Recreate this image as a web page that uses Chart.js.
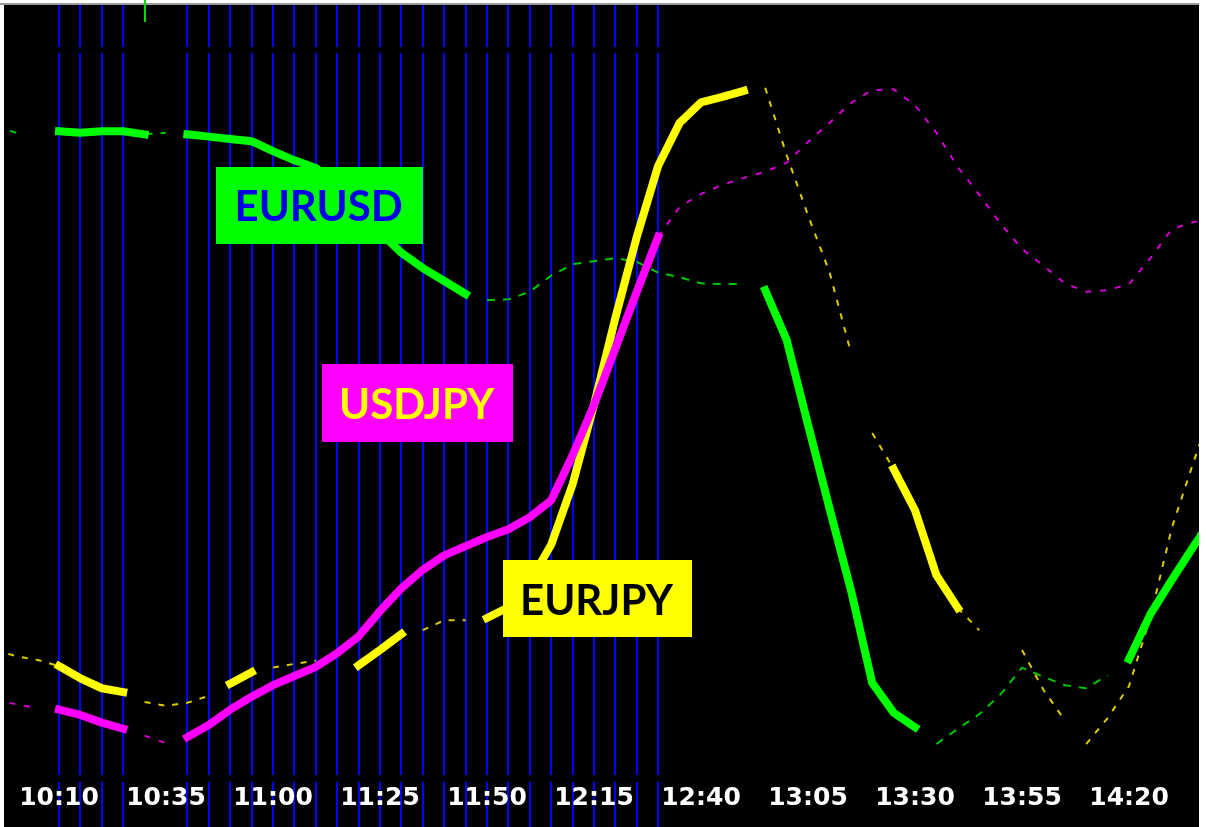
<!DOCTYPE html>
<html><head><meta charset="utf-8">
<script src="https://cdn.jsdelivr.net/npm/chart.js@4/dist/chart.umd.min.js"></script>
<style>html,body{margin:0;padding:0;background:#fff;overflow:hidden}canvas{display:block}</style>
</head><body>
<canvas id="c" width="1206" height="827"></canvas>
<script>
const N = null;
// 5-minute bars
const times = ['09:55','10:00','10:05','10:10','10:15','10:20','10:25','10:30','10:35','10:40','10:45','10:50','10:55',
  '11:00','11:05','11:10','11:15','11:20','11:25','11:30','11:35','11:40','11:45','11:50','11:55',
  '12:00','12:05','12:10','12:15','12:20','12:25','12:30','12:35','12:40','12:45','12:50','12:55',
  '13:00','13:05','13:10','13:15','13:20','13:25','13:30','13:35','13:40','13:45','13:50','13:55',
  '14:00','14:05','14:10','14:15','14:20','14:25','14:30','14:35','14:40'];
const tickLabels = ['10:10','10:35','11:00','11:25','11:50','12:15','12:40','13:05','13:30','13:55','14:20'];
const markedBars = ['10:10','10:15','10:20','10:25','10:40','10:45','10:50','10:55','11:00','11:05','11:10','11:15',
  '11:20','11:25','11:30','11:35','11:40','11:45','11:50','11:55','12:00','12:05','12:10','12:15','12:20','12:25','12:30'];
const signalBars = ['10:30'];

// EURUSD
const eurusdBold = [N,N,N, 83.6,83.4,83.6,83.6,83.2, N, 83.2,82.9,82.6,82.3,81.0,79.8,78.8,76.6,73.6,70.4,67.7,65.7,64.0,62.3,
  N,N,N,N,N,N,N,N,N,N,N,N,N, 62.8,56.3,45.2,34.3,23.6,11.4,7.5,5.6, N,N,N,N,N,N,N,N,N, 14.5,20.4,24.9,29.2,33.4];
const eurusdThin = [84.3,83.4,N, N,N,N,N, 83.2,83.4, N,N,N,N,N,N,N,N,N,N,N,N,N,N,
  61.5,61.6,62.6,64.7,66.2,66.6,67.0,66.5,65.1,64.5,63.7,63.6,63.6, N,N,N,N,N,N,N,N,
  3.4,5.4,7.3,9.9,13.4,12.2,11.1,10.7,12.4, N,N,N,N,N];
// USDJPY
const usdjpyBold = [N,N,N, 7.9,7.2,6.2,5.4, N,N, 4.3,5.9,7.9,9.6,11.1,12.3,13.5,15.3,17.5,20.8,23.8,26.2,28.1,29.3,30.5,31.5,33.1,35.3,41.2,47.8,55.2,62.6,69.8,
  N,N,N,N,N,N,N,N,N,N,N,N,N,N,N,N,N,N,N,N,N,N,N,N,N,N];
const usdjpyThin = [9.2,8.6,8.1, N,N,N,N, 4.5,3.5, N,N,N,N,N,N,N,N,N,N,N,N,N,N,N,N,N,N,N,N,N,N,
  69.8,73.7,75.4,76.6,77.5,78.3,79.5,82.2,84.7,87.3,89.0,89.1,87.0,83.4,78.9,75.3,71.5,68.2,66.0,63.7,62.6,62.8,63.6,67.0,70.8,71.7,72.3];
// EURJPY
const eurjpyBold = [N,N,N, 13.6,12.0,10.7,10.2, N,N,N,N, 11.3,12.8, N,N,N,N, 13.7,15.7,17.8, N,N,N,
  19.9,21.3,24.6,29.5,37.4,47.8,59.2,69.8,79.1,84.7,87.4,88.1,88.9, N,N,N,N,N,N, 39.4,34.0,25.5,21.2,
  N,N,N,N,N,N,N,N,N,N,N,N];
const eurjpyThin = [15.7,14.9,14.4,13.6, N,N,N, 8.9,8.4,8.8,9.7, N,N, 13.4,13.9,14.3, N,N,N,N, 18.3,19.6,19.6,
  N,N,N,N,N,N,N,N,N,N,N,N,N, 89.3,80.5,72.6,65.2,54.7,44.1,39.4, N,N, 21.2,18.3, N,
  15.7,10.5,6.5,3.4,6.8,11.0,20.0,31.7,40.2,48.4];
const eurjpyThinBreaks = ['13:15','14:05'];

const toMin = t => { const p = t.split(':'); return (+p[0]) * 60 + (+p[1]); };
const fmt = v => { const h = Math.floor(v / 60), m = Math.round(v - h * 60); return h + ':' + String(m).padStart(2, '0'); };
const pts = arr => arr.map((v, k) => ({ x: toMin(times[k]), y: v }));

function thick(label, arr, color, order) {
  return { label, data: pts(arr), borderColor: color, borderWidth: 8, borderCapStyle: 'square', borderJoinStyle: 'round',
    pointRadius: 0, tension: 0, order, clip: 0 };
}
function thin(label, arr, color, dash, order, breaks) {
  const ds = { label, data: pts(arr), borderColor: color, borderWidth: 2, borderDash: dash, borderCapStyle: 'butt',
    pointRadius: 0, tension: 0, order, clip: 0 };
  if (breaks) ds.segment = { borderColor: ctx => breaks.includes(times[ctx.p0DataIndex]) ? 'rgba(0,0,0,0)' : undefined };
  return ds;
}

const framePlugin = {
  id: 'frame',
  beforeDraw(chart) {
    const ctx = chart.ctx, xs = chart.scales.x;
    ctx.save();
    ctx.fillStyle = '#ffffff'; ctx.fillRect(0, 0, 1206, 827);
    ctx.fillStyle = '#9a9a9a'; ctx.fillRect(0, 3, 1199, 2);
    ctx.fillStyle = '#000000'; ctx.fillRect(4, 5, 1195, 822);
    ctx.fillStyle = '#0000ff';
    markedBars.forEach(t => {
      const x = Math.round(xs.getPixelForValue(toMin(t)));
      ctx.fillRect(x - 1, 5, 2, 42);
      ctx.fillRect(x - 1, 53, 2, 722);
      ctx.fillRect(x - 1, 782, 2, 45);
    });
    ctx.fillStyle = '#00e000';
    signalBars.forEach(t => {
      const x = Math.round(xs.getPixelForValue(toMin(t)));
      ctx.fillRect(x - 1, 0, 2, 22);
    });
    ctx.restore();
  },
  afterDatasetsDraw(chart, args, opts) {
    const ctx = chart.ctx, xs = chart.scales.x, ys = chart.scales.y;
    ctx.save();
    (opts.tags || []).forEach(tag => {
      const cx = xs.getPixelForValue(tag.x), cy = ys.getPixelForValue(tag.y);
      ctx.fillStyle = tag.bg;
      ctx.fillRect(Math.round(cx - tag.w / 2), Math.round(cy - tag.h / 2), tag.w, tag.h);
      ctx.fillStyle = tag.fg;
      ctx.font = 'bold 42px Lato, "Open Sans", sans-serif';
      ctx.textAlign = 'center';
      ctx.textBaseline = 'alphabetic';
      ctx.fillText(tag.text, cx - 1, cy + 16);
    });
    ctx.restore();
  }
};

new Chart(document.getElementById('c'), {
  type: 'line',
  data: {
    datasets: [
      thick('USDJPY', usdjpyBold, '#ff00ff', 0),
      thick('EURJPY', eurjpyBold, '#ffff00', 1),
      thick('EURUSD', eurusdBold, '#00ff00', 2),
      thin('USDJPY flat', usdjpyThin, '#d400d4', [6, 9], 3),
      thin('EURJPY flat', eurjpyThin, '#dccb00', [6, 8], 4, eurjpyThinBreaks),
      thin('EURUSD flat', eurusdThin, '#00c800', [8, 8], 5)
    ]
  },
  options: {
    responsive: false,
    devicePixelRatio: 1,
    animation: false,
    events: [],
    layout: { padding: { left: 4, right: 7, top: 6, bottom: 0 } },
    scales: {
      x: {
        type: 'linear',
        min: 597.15,
        max: 876.35,
        grid: { display: false, drawTicks: false },
        border: { display: false },
        afterFit: s => { s.height = 57; },
        afterBuildTicks: s => { s.ticks = tickLabels.map(t => ({ value: toMin(t) })); },
        ticks: {
          autoSkip: false, maxRotation: 0, minRotation: 0, padding: 13,
          color: '#ffffff',
          font: { family: '"DejaVu Sans", sans-serif', size: 25, weight: 'bold' },
          callback: v => fmt(v)
        }
      },
      y: { display: false, min: 0, max: 100 }
    },
    plugins: {
      legend: { display: false },
      tooltip: { enabled: false },
      frame: {
        tags: [
          { text: 'EURUSD', x: 670.9, y: 73.9, w: 207, h: 77, bg: '#00ff00', fg: '#0000e6' },
          { text: 'USDJPY', x: 693.8, y: 48.0, w: 191, h: 78, bg: '#ff00ff', fg: '#ffff00' },
          { text: 'EURJPY', x: 735.8, y: 22.4, w: 189, h: 77, bg: '#ffff00', fg: '#000000' }
        ]
      }
    }
  },
  plugins: [framePlugin]
});
</script>
</body></html>
